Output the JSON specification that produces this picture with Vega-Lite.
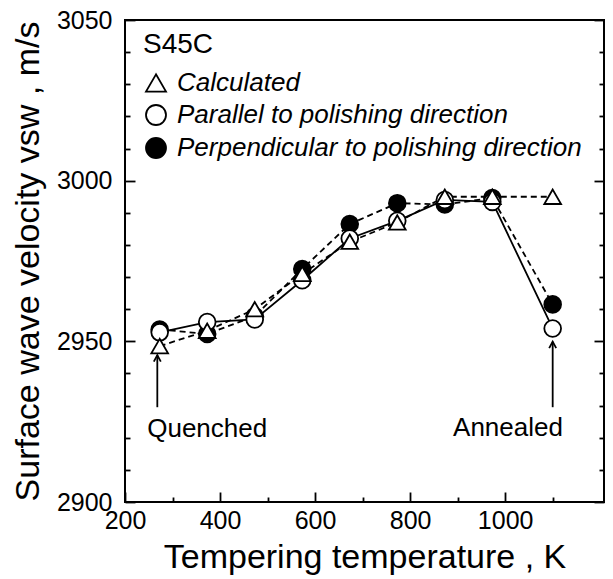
{
  "$schema": "https://vega.github.io/schema/vega-lite/v6.json",
  "width": 479,
  "height": 482,
  "autosize": {"type": "none"},
  "padding": {"left": 125, "top": 20, "right": 9, "bottom": 77},
  "background": "white",
  "config": {
    "view": {"stroke": "black", "strokeWidth": 2},
    "font": "Liberation Sans",
    "axis": {
      "domain": false,
      "grid": false,
      "tickColor": "black",
      "tickWidth": 1.8,
      "labelColor": "black",
      "titleColor": "black",
      "labelFont": "Liberation Sans",
      "titleFont": "Liberation Sans",
      "titleFontWeight": "normal",
      "labelFlush": false,
      "labelOverlap": false,
      "labelBound": false
    },
    "legend": {
      "orient": "none",
      "legendX": 18,
      "legendY": 11,
      "padding": 0,
      "titleFontSize": 28,
      "titleFontWeight": "normal",
      "titleColor": "black",
      "titlePadding": 11,
      "titleFont": "Liberation Sans",
      "labelFont": "Liberation Sans",
      "labelFontSize": 26,
      "labelFontStyle": "italic",
      "labelColor": "black",
      "labelLimit": 600,
      "labelOffset": 8,
      "symbolSize": 400,
      "symbolStrokeWidth": 1.8,
      "rowPadding": 5
    }
  },
  "datasets": {
    "meas": [
      {"T": 273, "v": 2953.7, "series": "Perpendicular to polishing direction"},
      {"T": 373, "v": 2952.3, "series": "Perpendicular to polishing direction"},
      {"T": 473, "v": 2957.8, "series": "Perpendicular to polishing direction"},
      {"T": 573, "v": 2972.5, "series": "Perpendicular to polishing direction"},
      {"T": 673, "v": 2986.5, "series": "Perpendicular to polishing direction"},
      {"T": 773, "v": 2993.0, "series": "Perpendicular to polishing direction"},
      {"T": 873, "v": 2992.6, "series": "Perpendicular to polishing direction"},
      {"T": 973, "v": 2994.6, "series": "Perpendicular to polishing direction"},
      {"T": 1100, "v": 2961.5, "series": "Perpendicular to polishing direction"},
      {"T": 273, "v": 2952.8, "series": "Parallel to polishing direction"},
      {"T": 373, "v": 2956.0, "series": "Parallel to polishing direction"},
      {"T": 473, "v": 2956.8, "series": "Parallel to polishing direction"},
      {"T": 573, "v": 2969.0, "series": "Parallel to polishing direction"},
      {"T": 673, "v": 2982.0, "series": "Parallel to polishing direction"},
      {"T": 773, "v": 2987.5, "series": "Parallel to polishing direction"},
      {"T": 873, "v": 2994.0, "series": "Parallel to polishing direction"},
      {"T": 973, "v": 2993.4, "series": "Parallel to polishing direction"},
      {"T": 1100, "v": 2954.0, "series": "Parallel to polishing direction"},
      {"T": 273, "v": 2948.5, "series": "Calculated"},
      {"T": 373, "v": 2953.3, "series": "Calculated"},
      {"T": 473, "v": 2960.0, "series": "Calculated"},
      {"T": 573, "v": 2971.0, "series": "Calculated"},
      {"T": 673, "v": 2981.0, "series": "Calculated"},
      {"T": 773, "v": 2987.0, "series": "Calculated"},
      {"T": 873, "v": 2995.0, "series": "Calculated"},
      {"T": 973, "v": 2995.0, "series": "Calculated"},
      {"T": 1100, "v": 2995.0, "series": "Calculated"}
    ],
    "notes": [
      {"T": 268, "v": 2929.5, "v2": 2945.7, "label": "Quenched", "Tl": 373, "vl": 2920.2},
      {"T": 1100, "v": 2929.5, "v2": 2949.9, "label": "Annealed", "Tl": 1006, "vl": 2920.5}
    ]
  },
  "encoding": {
    "x": {
      "field": "T",
      "type": "quantitative",
      "scale": {"domain": [200, 1208], "nice": false, "zero": false},
      "axis": {
        "orient": "bottom",
        "values": [200, 300, 400, 500, 600, 700, 800, 900, 1000, 1100],
        "format": "d",
        "labelExpr": "datum.value % 200 === 0 ? datum.label : ''",
        "tickSize": {"condition": {"test": "datum.value % 200 === 0", "value": -10}, "value": -5},
        "labelFontSize": 25,
        "labelPadding": 16,
        "title": "Tempering temperature , K",
        "titleFontSize": 34,
        "titlePadding": 2
      }
    },
    "y": {
      "field": "v",
      "type": "quantitative",
      "scale": {"domain": [2900, 3050], "nice": false, "zero": false},
      "axis": {
        "orient": "left",
        "values": [2900, 2910, 2920, 2930, 2940, 2950, 2960, 2970, 2980, 2990, 3000, 3010, 3020, 3030, 3040, 3050],
        "format": "d",
        "labelExpr": "datum.value % 50 === 0 ? datum.label : ''",
        "tickSize": {"condition": {"test": "datum.value % 50 === 0", "value": -10}, "value": -5},
        "labelFontSize": 25,
        "labelPadding": 23,
        "title": "Surface wave velocity vsw , m/s",
        "titleFontSize": 34,
        "titlePadding": 11
      }
    }
  },
  "resolve": {"axis": {"y": "independent"}},
  "layer": [
    {
      "data": {"name": "meas"},
      "transform": [{"filter": "datum.series !== 'Parallel to polishing direction'"}],
      "mark": {"type": "line", "color": "black", "strokeWidth": 1.8, "strokeDash": [6, 4]},
      "encoding": {
        "detail": {"field": "series", "type": "nominal"}
      }
    },
    {
      "data": {"name": "meas"},
      "transform": [{"filter": "datum.series === 'Parallel to polishing direction'"}],
      "mark": {"type": "line", "color": "black", "strokeWidth": 1.8},
      "encoding": {
        "y": {"field": "v", "type": "quantitative", "axis": null}
      }
    },
    {
      "data": {"name": "meas"},
      "mark": {"type": "point", "filled": true, "strokeWidth": 1.8, "size": 280, "opacity": 1},
      "encoding": {
        "y": {
          "field": "v",
          "type": "quantitative",
          "axis": {
            "orient": "right",
            "values": [2900, 2910, 2920, 2930, 2940, 2950, 2960, 2970, 2980, 2990, 3000, 3010, 3020, 3030, 3040, 3050],
            "labels": false,
            "title": null,
            "tickSize": {"condition": {"test": "datum.value % 50 === 0", "value": -10}, "value": -5}
          }
        },
        "shape": {
          "field": "series",
          "type": "nominal",
          "scale": {
            "domain": ["Calculated", "Parallel to polishing direction", "Perpendicular to polishing direction"],
            "range": ["triangle-up", "circle", "circle"]
          },
          "legend": {"title": "S45C"}
        },
        "fill": {
          "field": "series",
          "type": "nominal",
          "scale": {
            "domain": ["Calculated", "Parallel to polishing direction", "Perpendicular to polishing direction"],
            "range": ["white", "white", "black"]
          },
          "legend": {"title": "S45C"}
        },
        "stroke": {
          "field": "series",
          "type": "nominal",
          "scale": {
            "domain": ["Calculated", "Parallel to polishing direction", "Perpendicular to polishing direction"],
            "range": ["black", "black", "black"]
          },
          "legend": {"title": "S45C"}
        }
      }
    },
    {
      "data": {"name": "notes"},
      "mark": {"type": "rule", "color": "black", "strokeWidth": 1.8},
      "encoding": {
        "y": {"field": "v", "type": "quantitative", "axis": null},
        "y2": {"field": "v2"}
      }
    },
    {
      "data": {"name": "notes"},
      "mark": {"type": "point", "shape": "M-0.7,1.3L0,0L0.7,1.3", "filled": false, "stroke": "black", "strokeWidth": 1.8, "size": 100, "opacity": 1},
      "encoding": {
        "y": {"field": "v2", "type": "quantitative", "axis": null}
      }
    },
    {
      "data": {"name": "notes"},
      "mark": {"type": "text", "fontSize": 26, "align": "center", "baseline": "alphabetic", "color": "black", "font": "Liberation Sans"},
      "encoding": {
        "x": {"field": "Tl", "type": "quantitative"},
        "y": {"field": "vl", "type": "quantitative", "axis": null},
        "text": {"field": "label"}
      }
    }
  ]
}
